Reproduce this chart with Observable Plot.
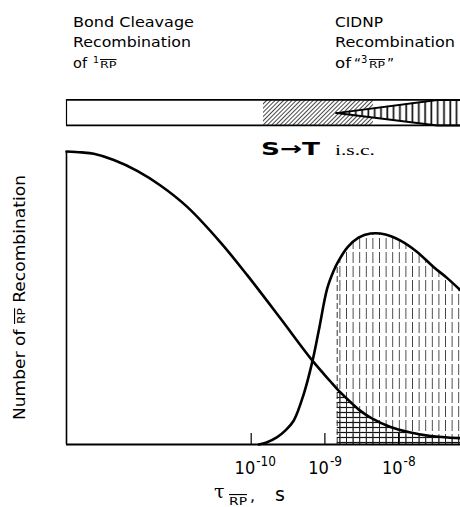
<!DOCTYPE html>
<html><head><meta charset="utf-8">
<script src="https://cdn.jsdelivr.net/npm/d3@7"></script>
<script src="https://cdn.jsdelivr.net/npm/@observablehq/plot@0.6"></script>
<style>
html,body{margin:0;padding:0;background:#fff;}
#chart{width:460px;height:507px;overflow:hidden;position:relative;}
</style></head><body>
<svg width="0" height="0" style="position:absolute;left:0;top:0">
<defs>
  <pattern id="diag" patternUnits="userSpaceOnUse" width="3" height="3" patternTransform="rotate(45)">
    <rect width="3" height="3" fill="#fff"/>
    <line x1="1.5" y1="0" x2="1.5" y2="3" stroke="#333" stroke-width="0.9"/>
  </pattern>
  <pattern id="vbar" patternUnits="userSpaceOnUse" width="6.3" height="10">
    <rect width="6.3" height="10" fill="#fff"/>
    <line x1="3" y1="0" x2="3" y2="10" stroke="#111" stroke-width="1.7"/>
  </pattern>
  <pattern id="vh" patternUnits="userSpaceOnUse" width="6.6" height="14">
    <line x1="3.3" y1="0" x2="3.3" y2="11" stroke="#444" stroke-width="1"/>
  </pattern>
  <pattern id="hh" patternUnits="userSpaceOnUse" width="6.6" height="5">
    <line x1="0" y1="2.5" x2="6.6" y2="2.5" stroke="#111" stroke-width="1.2"/>
    <line x1="3.3" y1="0" x2="3.3" y2="5" stroke="#222" stroke-width="1"/>
  </pattern>
</defs></svg>
<div id="chart"></div>
<script>
// ---- data (x = log10 of tau_RP in s, y = relative number of RP recombination) ----
const decayLogTau = [-12.506, -12.3, -12.136, -11.864, -11.547, -11.231, -10.868, -10.417, -10.054, -9.602, -9.172, -8.924, -8.833, -8.653, -8.540, -8.381, -8.110, -7.838, -7.567, -7.160];
const decayN      = [1.0, 0.997, 0.992, 0.971, 0.934, 0.884, 0.811, 0.690, 0.578, 0.430, 0.287, 0.215, 0.189, 0.145, 0.119, 0.092, 0.060, 0.041, 0.029, 0.0215];

const tripletLogTau = [-9.897, -9.792, -9.647, -9.535, -9.422, -9.286, -9.172, -9.083, -8.969, -8.879, -8.833, -8.697, -8.544, -8.381, -8.178, -7.974, -7.757, -7.522, -7.336, -7.160];
const tripletN      = [0, 0.007, 0.025, 0.048, 0.082, 0.173, 0.281, 0.389, 0.532, 0.594, 0.618, 0.672, 0.706, 0.720, 0.717, 0.696, 0.659, 0.605, 0.567, 0.526];

const tickExp = [-10, -9, -8];
const tickBase = "10";
const tickSup = ["-10", "-9", "-8"];

const xDomain = [-12.506, -7.16];
const hatchStart = -8.833;          // start of hatched regions (~1.2e-9 s)

// top bar (S -> T intersystem crossing)
const barBottom = 1.089, barTop = 1.176, barMid = 1.131;
const iscHatch = [-9.833, -8.341];
const wedgeLogTau = [-8.844, -7.476, -7.16];
const wedgeUpper  = [barMid, barTop, barTop];
const wedgeLower  = [barMid, barBottom, barBottom];

// ---- tables ----
const decay = decayLogTau.map((x, i) => ({x, y: decayN[i]}));
const triplet = tripletLogTau.map((x, i) => ({x, y: tripletN[i]}));
const wedge = wedgeLogTau.map((x, i) => ({x, y1: wedgeLower[i], y2: wedgeUpper[i]}));
const hatchTop = tripletN[tripletLogTau.indexOf(hatchStart)];

const tickFont = "'Liberation Sans Narrow', 'DejaVu Sans Condensed', 'Liberation Sans', sans-serif";
const curve = "catmull-rom";

const plot = Plot.plot({
  width: 460, height: 507,
  marginLeft: 66, marginRight: 0, marginTop: 151, marginBottom: 63,
  x: {domain: xDomain, axis: null},
  y: {domain: [0, 1], axis: null},
  style: {background: "white", color: "black"},
  marks: [
    // top bar
    Plot.rect([iscHatch], {x1: d => d[0], x2: d => d[1], y1: barBottom, y2: barTop, fill: "url(#diag)"}),
    Plot.areaY(wedge, {x: "x", y1: "y1", y2: "y2", fill: "url(#vbar)"}),
    Plot.line(wedge, {x: "x", y: "y2", stroke: "black", strokeWidth: 2}),
    Plot.line(wedge, {x: "x", y: "y1", stroke: "black", strokeWidth: 2}),
    Plot.ruleY([barTop, barBottom], {x1: xDomain[0], x2: xDomain[1], stroke: "black", strokeWidth: 1.8}),
    Plot.ruleX([xDomain[0]], {y1: barBottom, y2: barTop, stroke: "black", strokeWidth: 1.2}),
    // hatched areas
    Plot.areaY(triplet, {filter: d => d.x >= hatchStart, x: "x", y: "y", fill: "url(#vh)", curve}),
    Plot.areaY(decay, {filter: d => d.x >= hatchStart, x: "x", y: "y", fill: "url(#hh)", curve}),
    Plot.ruleX([hatchStart], {y1: 0, y2: hatchTop, stroke: "#333", strokeWidth: 1, strokeDasharray: "6,3"}),
    // frame
    Plot.ruleX([xDomain[0]], {y1: 0, y2: 1, stroke: "black", strokeWidth: 1.6}),
    Plot.ruleY([0], {stroke: "black", strokeWidth: 1.8}),
    // curves
    Plot.line(decay, {x: "x", y: "y", stroke: "black", strokeWidth: 2.6, curve}),
    Plot.line(triplet, {x: "x", y: "y", stroke: "black", strokeWidth: 2.6, curve}),
    // ticks
    Plot.ruleX(tickExp, {y1: 0, y2: 0, insetTop: -11, stroke: "black", strokeWidth: 1.2}),
    Plot.text(tickExp, {x: d => d, y: 0, text: () => tickBase, textAnchor: "end", lineAnchor: "bottom",
      dx: 4, dy: 29, fontSize: 18, fontFamily: tickFont, fill: "black"}),
    Plot.text(tickExp, {x: d => d, y: 0, text: (d, i) => tickSup[i], textAnchor: "start", lineAnchor: "bottom",
      dx: 5, dy: 21, fontSize: 13.5, fontFamily: tickFont, fill: "black"})
  ]
});
document.getElementById("chart").appendChild(plot);

// ---- annotations ----
const svg = d3.select(plot);
const g = svg.append("g").attr("fill", "black").attr("text-anchor", "start");
function txt(o) {
  const t = g.append("text").attr("x", o.x).attr("y", o.y)
    .attr("text-anchor", o.anchor || "start")
    .style("font-family", o.family || "'DejaVu Sans', sans-serif")
    .style("font-size", o.size + "px")
    .style("font-weight", o.weight || "normal")
    .text(o.text);
  if (o.len) t.attr("textLength", o.len).attr("lengthAdjust", "spacingAndGlyphs");
  if (o.deco) t.style("text-decoration", o.deco);
  return t;
}
const head = 13.5;
// left header
txt({x: 73, y: 26.5, text: "Bond Cleavage", size: head, len: 121});
txt({x: 73, y: 47, text: "Recombination", size: head, len: 118});
txt({x: 73, y: 68, text: "of", size: head, len: 14});
txt({x: 93, y: 62.5, text: "1", size: 9.5});
txt({x: 100, y: 68, text: "RP", size: 9.5, len: 16.5, deco: "overline"});
// right header
txt({x: 335, y: 26.5, text: "CIDNP", size: head, len: 48});
txt({x: 335, y: 47, text: "Recombination", size: head, len: 120});
txt({x: 335, y: 68, text: "of", size: head, len: 16});
txt({x: 354, y: 68, text: "\u201C", size: head});
txt({x: 361, y: 63, text: "3", size: 10});
txt({x: 369, y: 68, text: "RP", size: 9.5, len: 16, deco: "overline"});
txt({x: 387, y: 68, text: "\u201D", size: head});
// S -> T i.s.c.
txt({x: 261, y: 155, text: "S\u2192T", size: 18.5, weight: "bold", len: 59});
txt({x: 335, y: 155, text: "i.s.c.", size: 14, len: 40, family: "'Liberation Serif', 'DejaVu Serif', serif"});
// y label
const yl = g.append("text")
  .attr("transform", "translate(25,297.5) rotate(-90)")
  .attr("text-anchor", "middle")
  .attr("textLength", 245).attr("lengthAdjust", "spacingAndGlyphs")
  .style("font-family", "'DejaVu Sans', sans-serif").style("font-size", "15.5px");
yl.append("tspan").text("Number of ");
yl.append("tspan").text("RP").style("font-size", "11px").style("text-decoration", "overline");
yl.append("tspan").text(" Recombination");
// x label
txt({x: 214, y: 498, text: "\u03C4", size: 19, family: "'DejaVu Serif', serif"});
txt({x: 229, y: 505, text: "RP", size: 11, len: 18, deco: "overline"});
txt({x: 250, y: 501, text: ",", size: 16});
txt({x: 275, y: 501, text: "s", size: 19});
</script>
</body></html>
